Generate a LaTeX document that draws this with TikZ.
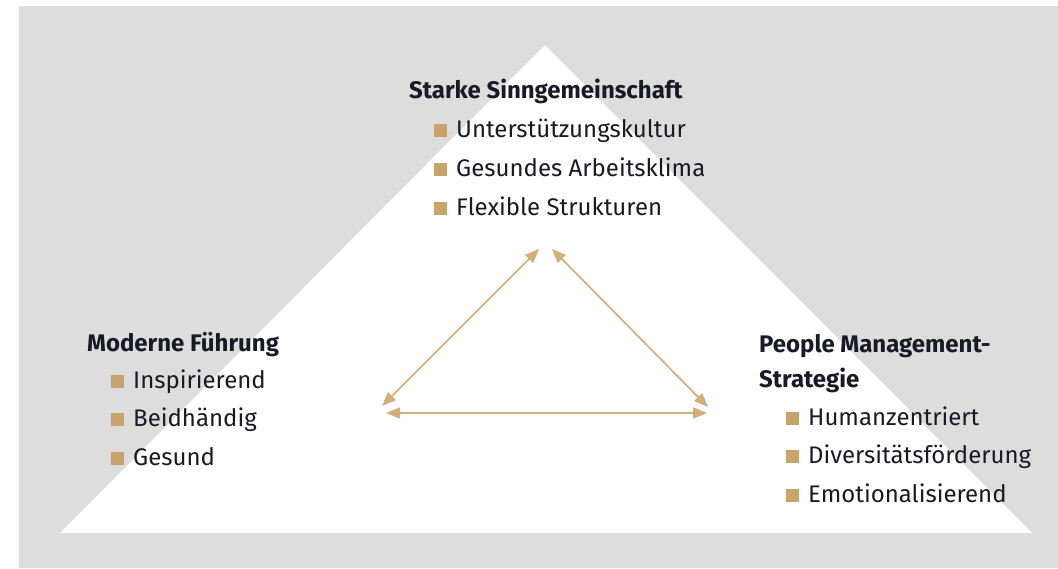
\documentclass[tikz,border=0pt]{standalone}
\usepackage{fontspec}
\setmainfont{Fira Sans}
\usetikzlibrary{arrows.meta}
\definecolor{bggray}{HTML}{DDDDDD}
\definecolor{tan}{HTML}{C9A36C}
\definecolor{arrowtan}{HTML}{D2AE7C}
\definecolor{ink}{HTML}{1A1A26}
\tikzset{
  head/.style={anchor=base west, inner sep=0pt, font=\fontsize{24}{28}\selectfont\bfseries, text=ink},
  item/.style={anchor=base west, inner sep=0pt, font=\fontsize{24}{28}\selectfont, text=ink},
  bullet/.style={anchor=south west, fill=tan, minimum width=13pt, minimum height=13pt, inner sep=0pt},
  link/.style={draw=arrowtan, line width=1.7pt, {Triangle[length=14pt,width=11pt]}-{Triangle[length=14pt,width=11pt]}}
}
\begin{document}
\begin{tikzpicture}[x=1pt,y=-1pt]
  \useasboundingbox (0,0) rectangle (1058,568);
  % backdrop and pyramid
  \fill[bggray] (19,6) rectangle (1058,568);
  \fill[white] (60,533) -- (545,45) -- (1032,533) -- cycle;

  % top group
  \node[head] (topHead) at (409,98) {Starke Sinngemeinschaft};
  \node[bullet] (tb1) at (434,137) {};
  \node[item] (ti1) at (456,137) {Unterstützungskultur};
  \node[bullet] (tb2) at (434,176) {};
  \node[item] (ti2) at (456,176) {Gesundes Arbeitsklima};
  \node[bullet] (tb3) at (434,215) {};
  \node[item] (ti3) at (456,215) {Flexible Strukturen};

  % left group
  \node[head] (leftHead) at (87,351) {Moderne Führung};
  \node[bullet] (lb1) at (111,388) {};
  \node[item] (li1) at (133,388) {Inspirierend};
  \node[bullet] (lb2) at (111,426) {};
  \node[item] (li2) at (133,426) {Beidhändig};
  \node[bullet] (lb3) at (111,465) {};
  \node[item] (li3) at (133,465) {Gesund};

  % right group
  \node[head] (rightHead) at (759,352) {People Management-};
  \node[head] (rightHead2) at (759,387) {Strategie};
  \node[bullet] (rb1) at (786,425) {};
  \node[item] (ri1) at (808,425) {Humanzentriert};
  \node[bullet] (rb2) at (786,463) {};
  \node[item] (ri2) at (808,463) {Diversitätsförderung};
  \node[bullet] (rb3) at (786,502) {};
  \node[item] (ri3) at (808,502) {Emotionalisierend};

  % link end points
  \coordinate (pTopL) at (539,249);
  \coordinate (pTopR) at (552,249);
  \coordinate (pLeftD) at (382,406);
  \coordinate (pRightD) at (708,407);
  \coordinate (pLeftH) at (386,413);
  \coordinate (pRightH) at (707,413);

  \draw[link] (pLeftD) -- (pTopL);
  \draw[link] (pTopR) -- (pRightD);
  \draw[link] (pLeftH) -- (pRightH);
\end{tikzpicture}
\end{document}
